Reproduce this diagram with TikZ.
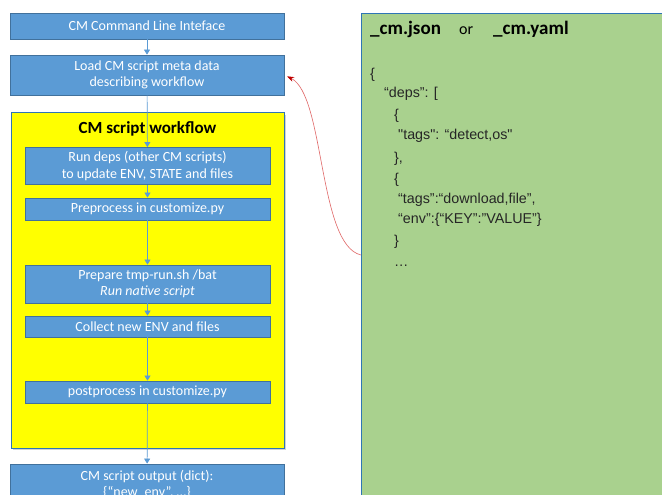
\documentclass[tikz,border=0pt]{standalone}
\usepackage{fontspec}
\setmainfont{Carlito}
\newfontfamily\jsonfont{Liberation Sans}
\usetikzlibrary{shadows,arrows.meta}
\definecolor{boxblue}{HTML}{5B9BD5}
\definecolor{boxedge}{HTML}{41719C}
\definecolor{yel}{HTML}{FFFF00}
\definecolor{yeledge}{HTML}{2E75B6}
\definecolor{grn}{HTML}{A9D18E}
\definecolor{grnedge}{HTML}{2E75B6}
\definecolor{redline}{HTML}{E06666}
\definecolor{redtip}{HTML}{C00000}
\begin{document}
\begin{tikzpicture}[x=1pt,y=-1pt,
  bluebox/.style={draw=boxedge,fill=boxblue,line width=0.8pt,text=white,align=center,
    font=\fontsize{14}{16.5}\selectfont,inner sep=0pt},
  flow/.style={draw=boxblue,line width=0.7pt,-{Triangle[length=5pt,width=6pt]}},
  jsonline/.style={anchor=base west,inner sep=0pt,font=\jsonfont\fontsize{14.3}{16}\selectfont,text=black!85},
  metahead/.style={anchor=base west,inner sep=0pt,text=black}
]
\useasboundingbox (0,0) rectangle (662,495);
\clip (0,0) rectangle (662,495);
\fill[white] (0,0) rectangle (662,495);
% yellow workflow container
\node[draw=yeledge,fill=yel,line width=1pt,minimum width=273pt,minimum height=335pt,inner sep=0pt,
  drop shadow={shadow xshift=2pt,shadow yshift=-2pt,opacity=0.35}] (wf) at (147.5,280.5) {};
\node[font=\bfseries\fontsize{17}{19}\selectfont,inner sep=0pt] (wftitle) at (147.5,129) {CM script workflow};
% left column boxes
\node[bluebox,minimum width=274pt,minimum height=26pt] (cli) at (147,26) {CM Command Line Inteface};
\node[bluebox,minimum width=274pt,minimum height=40pt] (load) at (147,75) {Load CM script meta data\\describing workflow};
\node[bluebox,minimum width=245pt,minimum height=37pt] (deps) at (147.5,166) {Run deps (other CM scripts)\\to update ENV, STATE and files};
\node[bluebox,minimum width=245pt,minimum height=22pt] (pre) at (147.5,209) {Preprocess in customize.py};
\node[bluebox,minimum width=245pt,minimum height=38pt] (prep) at (147.5,284) {Prepare tmp-run.sh /bat\\\textit{Run native script}};
\node[bluebox,minimum width=245pt,minimum height=21pt] (coll) at (147.5,326.5) {Collect new ENV and files};
\node[bluebox,minimum width=245pt,minimum height=22pt] (post) at (147.5,392) {postprocess in customize.py};
\node[bluebox,minimum width=274pt,minimum height=41pt] (out) at (147,484.5) {CM script output (dict):\\\{“new\_env”, …\}};
% flow arrows
\draw[flow] (cli) -- (load);
\draw[flow] (load) -- (deps);
\draw[flow] (deps) -- (pre);
\draw[flow] (pre) -- (prep);
\draw[flow] (prep) -- (coll);
\draw[flow] (coll) -- (post);
\draw[flow] (post) -- (out);
% green meta box
\node[draw=grnedge,fill=grn,line width=1pt,minimum width=320pt,minimum height=500pt,inner sep=0pt,anchor=north west] (meta) at (361,13) {};
\node[metahead,font=\bfseries\fontsize{19}{21}\selectfont] (mh1) at (370,35) {\_cm.json};
\node[metahead,font=\fontsize{16}{18}\selectfont] (mh2) at (459,35) {or};
\node[metahead,font=\bfseries\fontsize{19}{21}\selectfont] (mh3) at (493,35) {\_cm.yaml};
\node[jsonline] (j1) at (370,78) {\{};
\node[jsonline] (j2) at (384,98) {“deps”: [};
\node[jsonline] (j3) at (394,119.5) {\{};
\node[jsonline] (j4) at (398,139.5) {"tags": “detect,os"};
\node[jsonline] (j5) at (394,162.5) {\},};
\node[jsonline] (j6) at (394,183) {\{};
\node[jsonline] (j7) at (398,203) {“tags”:“download,file”,};
\node[jsonline] (j8) at (398,223) {“env”:\{“KEY”:”VALUE”\}};
\node[jsonline] (j9) at (394,245) {\}};
\node[jsonline] (j10) at (394,266.5) {…};
% red reference connector
\coordinate (gs) at (361,255);
\draw[redline,line width=0.6pt,-{Stealth[length=7pt,width=5pt,color=redtip]},shorten >=3pt]
  (gs) .. controls (318,245) and (325,95) .. (load.east);
\end{tikzpicture}
\end{document}
